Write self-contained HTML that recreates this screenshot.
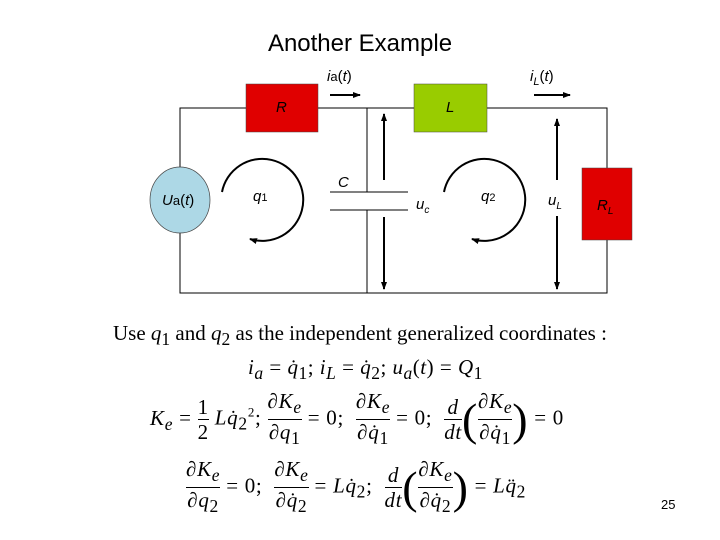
<!DOCTYPE html>
<html><head><meta charset="utf-8"><style>
body{margin:0;width:720px;height:540px;background:#fff;position:relative;overflow:hidden;font-family:"Liberation Sans",sans-serif}
.t{position:absolute;white-space:nowrap}
.m{font-family:"Liberation Serif",serif;font-size:21px}
.w{letter-spacing:0.7px}
i{font-style:italic}
.f{display:inline-block;vertical-align:middle;text-align:center}
.f span{display:block;line-height:24px}
.f .n{border-bottom:1px solid #000}
.p{font-size:46px;vertical-align:middle;font-weight:normal}
</style></head><body>
<div class="t" style="left:0;width:720px;text-align:center;top:30px;font-size:24px">Another Example</div>
<svg width="720" height="540" style="position:absolute;left:0;top:0">
<defs><marker id="a" markerWidth="8" markerHeight="8" refX="7" refY="4" orient="auto" markerUnits="userSpaceOnUse"><path d="M0,1 L8,4 L0,7z" fill="#000"/></marker></defs>
<g stroke="#000" stroke-width="1" fill="none">
<path d="M180,108 H607 V293 H180 Z"/>
<path d="M367,108 V192 M367,210 V293"/>
<path d="M330,192 H408 M330,210 H408" />
</g>
<rect x="246" y="84" width="72" height="48" fill="#e00000" stroke="#444" stroke-width="0.5"/>
<rect x="414" y="84" width="73" height="48" fill="#99cc00" stroke="#444" stroke-width="0.5"/>
<rect x="582" y="168" width="50" height="72" fill="#e00000" stroke="#444" stroke-width="0.5"/>
<ellipse cx="180" cy="200" rx="30" ry="33" fill="#add8e6" stroke="#444" stroke-width="0.7"/>
<g stroke="#000" stroke-width="2" fill="none">
<line x1="330" y1="95" x2="360" y2="95" marker-end="url(#a)"/>
<line x1="534" y1="95" x2="570" y2="95" marker-end="url(#a)"/>
<line x1="384" y1="180" x2="384" y2="114" marker-end="url(#a)"/>
<line x1="384" y1="217" x2="384" y2="289" marker-end="url(#a)"/>
<line x1="557" y1="180" x2="557" y2="119" marker-end="url(#a)"/>
<line x1="557" y1="216" x2="557" y2="289" marker-end="url(#a)"/>
<path d="M222,192 A41,41 0 1,1 250,239" marker-end="url(#a)"/>
<path d="M444,192 A41,41 0 1,1 472,239" marker-end="url(#a)"/>
</g>
</svg>
<div class="t" style="left:276px;top:99px;font-size:15px"><i>R</i></div>
<div class="t" style="left:446px;top:99px;font-size:15px"><i>L</i></div>
<div class="t" style="left:162px;top:192px;font-size:15px"><i>U</i><span style="font-size:13px">a</span>(<i>t</i>)</div>
<div class="t" style="left:327px;top:68px;font-size:15px"><i>i</i><span style="font-size:13px">a</span>(<i>t</i>)</div>
<div class="t" style="left:530px;top:68px;font-size:15px"><i>i<sub style="font-size:11px">L</sub></i>(<i>t</i>)</div>
<div class="t" style="left:253px;top:188px;font-size:15px"><i>q</i><span style="font-size:11px">1</span></div>
<div class="t" style="left:481px;top:188px;font-size:15px"><i>q</i><span style="font-size:11px">2</span></div>
<div class="t" style="left:338px;top:174px;font-size:15px"><i>C</i></div>
<div class="t" style="left:416px;top:196px;font-size:15px"><i>u<sub style="font-size:10px">c</sub></i></div>
<div class="t" style="left:548px;top:192px;font-size:15px"><i>u<sub style="font-size:10px">L</sub></i></div>
<div class="t" style="left:597px;top:197px;font-size:15px"><i>R<sub style="font-size:10px">L</sub></i></div>
<div class="t m" style="left:113px;top:321px">Use <i>q</i><sub>1</sub> and <i>q</i><sub>2</sub> as the independent generalized coordinates :</div>
<div class="t m" style="left:248px;top:355px;letter-spacing:0.5px"><i>i<sub>a</sub></i> = <i>q̇</i><sub>1</sub>; <i>i<sub>L</sub></i> = <i>q̇</i><sub>2</sub>; <i>u<sub>a</sub></i>(<i>t</i>) = <i>Q</i><sub>1</sub></div>
<div class="t m w" style="left:150px;top:389px"><i>K<sub>e</sub></i> = <span class="f"><span class="n">1</span><span>2</span></span> <i>Lq̇</i><sub>2</sub><sup style="font-size:13px">2</sup>; <span class="f"><span class="n">∂<i>K<sub>e</sub></i></span><span>∂<i>q</i><sub>1</sub></span></span> = 0; &nbsp;<span class="f"><span class="n">∂<i>K<sub>e</sub></i></span><span>∂<i>q̇</i><sub>1</sub></span></span> = 0; &nbsp;<span class="f"><span class="n"><i>d</i></span><span><i>dt</i></span></span><span class="p">(</span><span class="f"><span class="n">∂<i>K<sub>e</sub></i></span><span>∂<i>q̇</i><sub>1</sub></span></span><span class="p">)</span> = 0</div>
<div class="t m w" style="left:186px;top:457px"><span class="f"><span class="n">∂<i>K<sub>e</sub></i></span><span>∂<i>q</i><sub>2</sub></span></span> = 0; &nbsp;<span class="f"><span class="n">∂<i>K<sub>e</sub></i></span><span>∂<i>q̇</i><sub>2</sub></span></span> = <i>Lq̇</i><sub>2</sub>; &nbsp;<span class="f"><span class="n"><i>d</i></span><span><i>dt</i></span></span><span class="p">(</span><span class="f"><span class="n">∂<i>K<sub>e</sub></i></span><span>∂<i>q̇</i><sub>2</sub></span></span><span class="p">)</span> = <i>Lq̈</i><sub>2</sub></div>
<div class="t" style="left:661px;top:497px;font-size:13px">25</div>
</body></html>
